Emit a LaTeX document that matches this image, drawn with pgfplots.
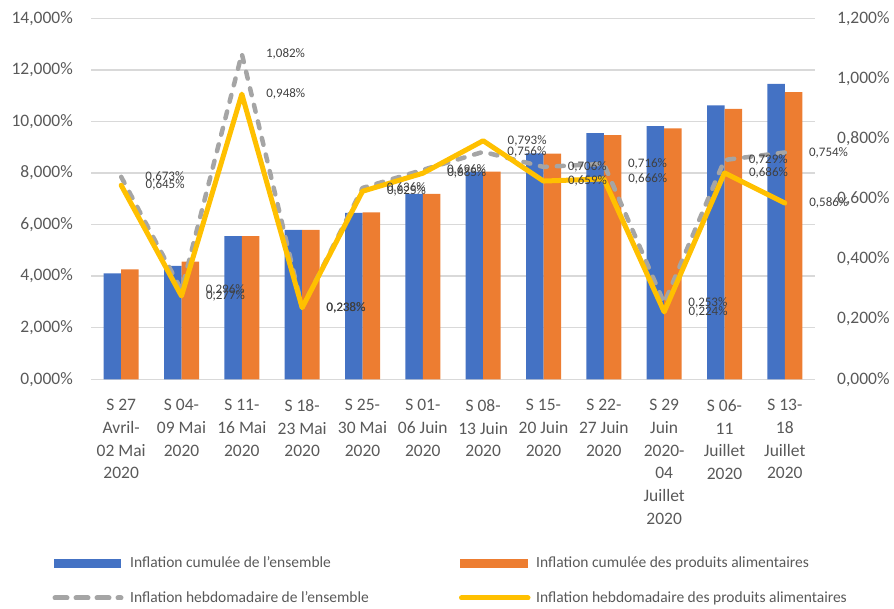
\documentclass[border=0pt]{standalone}
\usepackage{fontspec}
\setmainfont{Carlito}
\usepackage{pgfplots}
\pgfplotsset{compat=1.18}
\definecolor{cblue}{HTML}{4472C4}
\definecolor{corange}{HTML}{ED7D31}
\definecolor{cgray}{HTML}{A5A5A5}
\definecolor{cyellow}{HTML}{FFC000}
\definecolor{textgray}{HTML}{595959}
\definecolor{labgray}{HTML}{404040}
\definecolor{gridgray}{HTML}{D9D9D9}
\begin{document}
\begin{tikzpicture}[x=1pt,y=1pt]
\useasboundingbox (0,0) rectangle (894,609);
% bars, left axis
\begin{axis}[at={(91pt,229.7pt)}, anchor=south west,
  scale only axis, width=724pt, height=361pt,
  xmin=-0.5, xmax=11.5, ymin=0, ymax=14,
  ytick={0,2,...,14},
  xtick={0,...,11},
  xticklabels={{S 27\\Avril-\\02 Mai\\2020},{S 04-\\09 Mai\\2020},{S 11-\\16 Mai\\2020},
    {S 18-\\23 Mai\\2020},{S 25-\\30 Mai\\2020},{S 01-\\06 Juin\\2020},
    {S 08-\\13 Juin\\2020},{S 15-\\20 Juin\\2020},{S 22-\\27 Juin\\2020},
    {S 29\\Juin\\2020-\\04\\Juillet\\2020},{S 06-\\11\\Juillet\\2020},{S 13-\\18\\Juillet\\2020}},
  yticklabel={\pgfmathprintnumber[assume math mode=true,fixed,fixed zerofill,precision=3,use comma]{\tick}\%},
  tick label style={font=\fontsize{17.5}{22.7}\selectfont, text=textgray},
  xticklabel style={align=center, anchor=north, inner sep=0pt, yshift=-20pt},
  yticklabel style={anchor=east, inner sep=0pt, xshift=-18pt},
  major tick length=0pt,
  axis line style={draw=none},
  ymajorgrids, grid style={gridgray, line width=1.3pt},
  ybar=0pt, bar width=17.5pt,
]
\addplot[fill=cblue, draw=none] coordinates {
  (0,4.11) (1,4.40) (2,5.55) (3,5.79) (4,6.45) (5,7.19)
  (6,8.05) (7,8.76) (8,9.55) (9,9.82) (10,10.62) (11,11.46)};
\addplot[fill=corange, draw=none] coordinates {
  (0,4.26) (1,4.56) (2,5.55) (3,5.79) (4,6.47) (5,7.19)
  (6,8.05) (7,8.75) (8,9.47) (9,9.73) (10,10.49) (11,11.14)};
\end{axis}
% weekly lines, right axis
\begin{axis}[at={(91pt,229.7pt)}, anchor=south west,
  scale only axis, width=724pt, height=361pt,
  xmin=-0.5, xmax=11.5, ymin=0, ymax=1.2,
  ytick={0,0.2,...,1.2},
  axis y line*=right, axis x line=none,
  axis line style={draw=none},
  yticklabel={\pgfmathprintnumber[assume math mode=true,fixed,fixed zerofill,precision=3,use comma]{\tick}\%},
  tick label style={font=\fontsize{17.5}{22.7}\selectfont, text=textgray},
  yticklabel style={anchor=west, inner sep=0pt, xshift=22pt},
  major tick length=0pt,
  clip=false,
  nodes near coords={\pgfmathprintnumber[assume math mode=true,fixed,fixed zerofill,precision=3,use comma]{\pgfplotspointmeta}\%},
  point meta=y,
  every node near coord/.append style={anchor=west, xshift=22pt, inner sep=0pt,
    font=\fontsize{13}{15}\selectfont, text=labgray},
]
\addplot[cgray, line width=4.5pt, line cap=round, line join=round, dash pattern=on 7pt off 10pt] coordinates {
  (0,0.673) (1,0.296) (2,1.082) (3,0.238) (4,0.636) (5,0.696)
  (6,0.756) (7,0.706) (8,0.716) (9,0.253) (10,0.729) (11,0.754)};
\addplot[cyellow, line width=5pt, line cap=round, line join=round] coordinates {
  (0,0.645) (1,0.277) (2,0.948) (3,0.238) (4,0.625) (5,0.685)
  (6,0.793) (7,0.659) (8,0.666) (9,0.224) (10,0.686) (11,0.586)};
\end{axis}
% legend
\begin{scope}[every node/.style={anchor=base west, inner sep=0pt, text=textgray,
    font=\fontsize{15.5}{18}\selectfont}]
\fill[cblue] (54,41) rectangle (121,50);
\node at (130,41) {Inflation cumulée de l'ensemble};
\fill[corange] (460,41) rectangle (528,50);
\node at (536,41) {Inflation cumulée des produits alimentaires};
\draw[cgray, line width=5pt, line cap=round, dash pattern=on 12pt off 9pt] (55,11) -- (121,11);
\node at (130,6) {Inflation hebdomadaire de l'ensemble};
\draw[cyellow, line width=5pt, line cap=round] (461.5,11) -- (528,11);
\node at (536,6) {Inflation hebdomadaire des produits alimentaires};
\end{scope}
\end{tikzpicture}
\end{document}
